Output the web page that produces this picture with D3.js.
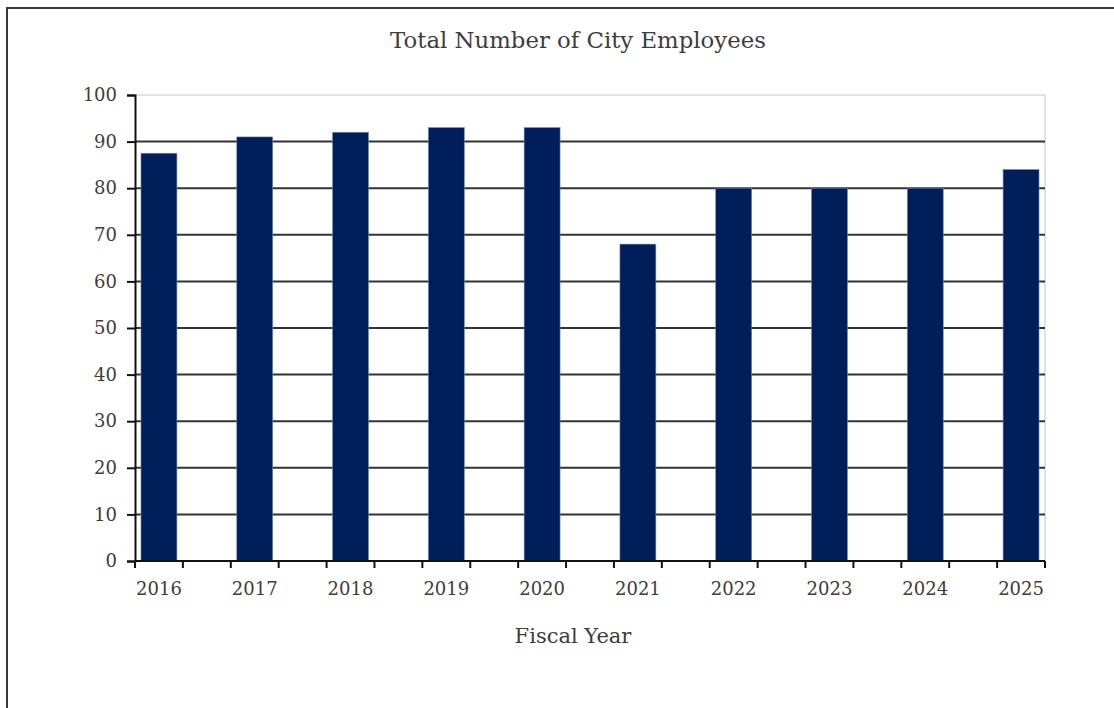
<!DOCTYPE html>
<html lang="en">
<head>
    <meta charset="UTF-8">
    <title>Total Number of City Employees</title>
    <script src="https://d3js.org/d3.v7.min.js"></script>
    <style>
        body { margin: 0; background: #fff; }
        text { font-family: "Palatino Linotype", "Book Antiqua", "DejaVu Serif", serif; fill: #3d3d3d; }
    </style>
</head>
<body>
<svg width="1114" height="708"></svg>
<script>
    // data
    var years = ["2016", "2017", "2018", "2019", "2020", "2021", "2022", "2023", "2024", "2025"];
    var employees = [87.5, 91, 92, 93, 93, 68, 80, 80, 80, 84];
    var yTicks = [0, 10, 20, 30, 40, 50, 60, 70, 80, 90, 100];

    function drawChart() {
        var svg = d3.select("svg");

        // outer frame, runs off the right and bottom edges
        svg.append("rect")
            .attr("x", 7).attr("y", 8)
            .attr("width", 1200).attr("height", 800)
            .attr("fill", "none").attr("stroke", "#3a3a3a").attr("stroke-width", 2);

        var left = 135, right = 1045, plotTop = 95, bottom = 561;

        // each year takes a slot with an empty slot between them (19 slots)
        var slots = d3.range(years.length * 2 - 1);
        var x = d3.scaleBand().domain(slots).range([left, right]).paddingInner(0.25).paddingOuter(0.125);
        var y = d3.scaleLinear().domain([0, 100]).range([bottom, plotTop]);

        // plot area border (light) on top and right
        svg.append("path")
            .attr("d", "M" + left + "," + y(100) + "H" + right + "V" + bottom)
            .attr("fill", "none").attr("stroke", "#d9d9d9").attr("stroke-width", 1.5);

        // gridlines
        svg.append("g").selectAll("line")
            .data(yTicks.filter(d => d > 0 && d < 100))
            .enter().append("line")
            .attr("x1", left).attr("x2", right)
            .attr("y1", d => y(d)).attr("y2", d => y(d))
            .attr("stroke", "#333").attr("stroke-width", 2);

        // bars
        svg.append("g").selectAll("rect")
            .data(employees)
            .enter().append("rect")
            .attr("x", (d, i) => x(i * 2))
            .attr("width", x.bandwidth())
            .attr("y", d => y(d))
            .attr("height", d => y(0) - y(d))
            .attr("fill", "#001e5a")
            .attr("stroke", "#6f86b8").attr("stroke-width", 0.6);

        // y axis
        var yAxis = svg.append("g")
            .attr("transform", "translate(" + left + ",0)")
            .call(d3.axisLeft(y).tickValues(yTicks).tickSize(8).tickPadding(10));
        yAxis.select(".domain").attr("stroke", "#111").attr("stroke-width", 2);
        yAxis.selectAll(".tick line").attr("stroke", "#111").attr("stroke-width", 2);
        yAxis.selectAll(".tick text")
            .style("font-size", "18px")
            .style("font-family", "\"Palatino Linotype\", \"Book Antiqua\", \"DejaVu Serif\", serif")
            .attr("fill", "#3d3d3d");

        // x axis line + ticks at slot boundaries
        var step = x.step();
        var bounds = d3.range(slots.length + 1).map(i => left + i * step);
        var xg = svg.append("g");
        xg.append("line")
            .attr("x1", left).attr("x2", right)
            .attr("y1", bottom).attr("y2", bottom)
            .attr("stroke", "#111").attr("stroke-width", 2);
        xg.selectAll("line.tk")
            .data(bounds)
            .enter().append("line").attr("class", "tk")
            .attr("x1", d => d).attr("x2", d => d)
            .attr("y1", bottom).attr("y2", bottom + 7)
            .attr("stroke", "#111").attr("stroke-width", 2);
        xg.selectAll("text")
            .data(years)
            .enter().append("text")
            .attr("x", (d, i) => x(i * 2) + x.bandwidth() / 2)
            .attr("y", bottom + 34)
            .attr("text-anchor", "middle")
            .style("font-size", "18px")
            .text(d => d);

        // titles
        svg.append("text")
            .attr("x", 578).attr("y", 48)
            .attr("text-anchor", "middle")
            .style("font-size", "22.8px")
            .text("Total Number of City Employees");

        svg.append("text")
            .attr("x", 573).attr("y", 643)
            .attr("text-anchor", "middle")
            .style("font-size", "21px")
            .text("Fiscal Year");
    }
    drawChart();
</script>
</body>
</html>
